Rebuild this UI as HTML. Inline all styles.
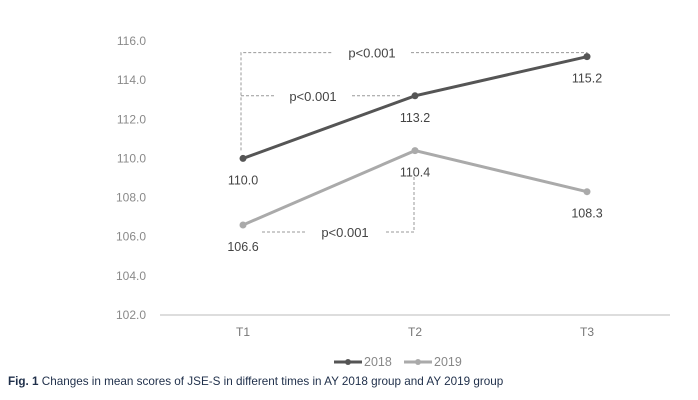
<!DOCTYPE html>
<html><head><meta charset="utf-8"><style>
body{margin:0;background:#fff;}
svg{display:block;font-family:"Liberation Sans",sans-serif;}
</style></head><body>
<svg id="c" width="698" height="400"></svg>
<script>
const categories=["T1","T2","T3"];
const yTicks=[102,104,106,108,110,112,114,116];
const series2018=[110.0,113.2,115.2];
const series2019=[106.6,110.4,108.3];
const seriesNames=["2018","2019"];
const NS="http://www.w3.org/2000/svg";
const svg=document.getElementById("c");
const xPos=i=>243+i*172;
const yPos=v=>315-(v-102)*(274/14);
function mk(tag,attrs,parent){const e=document.createElementNS(NS,tag);for(const k in attrs)e.setAttribute(k,attrs[k]);(parent||svg).appendChild(e);return e;}
yTicks.forEach(t=>{const e=mk("text",{x:146,y:yPos(t)+4,"text-anchor":"end","font-size":12,fill:"#8a8a8a"});e.textContent=t.toFixed(1);

});
const ax=mk("line",{x1:160,x2:670,y1:315,y2:315,stroke:"#bbb","stroke-width":1});


categories.forEach((c,i)=>{const e=mk("text",{x:xPos(i),y:336,"text-anchor":"middle","font-size":12,fill:"#777"});e.textContent=c;

});
const dash={stroke:"#999","stroke-width":1,"stroke-dasharray":"3,2",fill:"none"};
function p(d,name){const e=mk("path",Object.assign({d:d},dash));}
const yTop=yPos(115.2)-4, yMid=yPos(113.2);
p(`M${xPos(0)-2},${yPos(110)-8} V${yTop} H333 M411,${yTop} H${xPos(2)} V${yPos(115.2)-3}`,'bracket-t1-t3');
p(`M${xPos(0)-2},${yMid} H275 M352,${yMid} H${xPos(1)-15}`,'bracket-t1-t2');
const yLow=yPos(106.6)+7;
p(`M262,${yLow} H305 M386,${yLow} H${xPos(1)-1} V${yPos(110.4)+24}`,'bracket-2019');
function lbl(x,y,t,n){const e=mk("text",{x:x,y:y,"text-anchor":"middle","font-size":13,fill:"#444"});e.textContent=t;}
lbl(372,yTop+5,"p<0.001",'p-value-t1-t3');
lbl(313,yMid+5,"p<0.001",'p-value-t1-t2');
lbl(345,yLow+5,"p<0.001",'p-value-2019');
function drawSeries(vals,color,name,lblOff){
 const pl=mk("polyline",{points:vals.map((v,i)=>xPos(i)+","+yPos(v)).join(" "),fill:"none",stroke:color,"stroke-width":3});
 
 
 vals.forEach((v,i)=>{const c=mk("circle",{cx:xPos(i),cy:yPos(v),r:3.5,fill:color});
 
 
 const t=mk("text",{x:xPos(i),y:yPos(v)+lblOff,"text-anchor":"middle","font-size":12.5,fill:"#444"});t.textContent=v.toFixed(1);
 
 });
}
drawSeries(series2018,"#555",seriesNames[0],26);
drawSeries(series2019,"#aaa",seriesNames[1],26);
[["#555",seriesNames[0],334],["#aaa",seriesNames[1],404]].forEach(([col,n,x])=>{
 const g=mk("g",{});
 mk("line",{x1:x,x2:x+28,y1:362,y2:362,stroke:col,"stroke-width":3},g);
 mk("circle",{cx:x+14,cy:362,r:3,fill:col},g);
 const t=mk("text",{x:x+30,y:366,"font-size":12.5,fill:"#888"},g);t.textContent=n;});
const cap=mk("text",{x:8,y:385,"font-size":11.7,fill:"#1f2f4a"});


cap.innerHTML='<tspan font-weight="bold">Fig. 1</tspan>  Changes in mean scores of JSE-S in different times in AY 2018 group and AY 2019 group';
</script>
</body></html>
